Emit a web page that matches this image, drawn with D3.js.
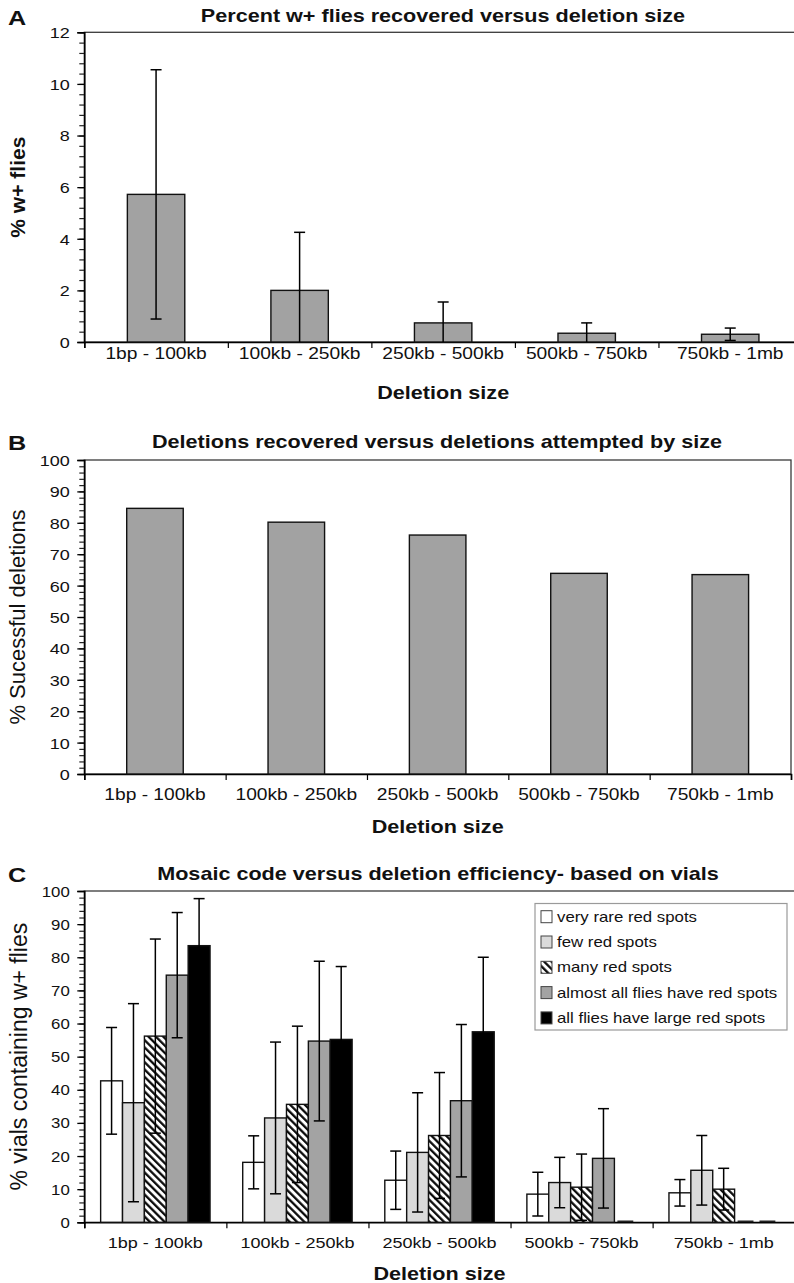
<!DOCTYPE html>
<html><head><meta charset="utf-8">
<script src="https://cdn.jsdelivr.net/npm/d3@7"></script>
<style>body{margin:0;background:#fff} svg{display:block} text{font-family:"Liberation Sans",Arial,Helvetica,sans-serif;fill:#111}</style>
</head><body>
<svg id="fig" width="794" height="1283"></svg>
<script>
// ---------- DATA ----------
const categories = ["1bp - 100kb", "100kb - 250kb", "250kb - 500kb", "500kb - 750kb", "750kb - 1mb"];

// Panel A: percent w+ flies recovered
const pctWFlies    = [5.72, 2.00, 0.74, 0.34, 0.30];
const pctWFliesErr = [4.83, 2.25, 0.81, 0.40, 0.24];
const yTicksA = [0, 2, 4, 6, 8, 10, 12];

// Panel B: percent successful deletions
const pctSuccessful = [84.6, 80.2, 76.1, 63.9, 63.5];
const yTicksB = [0, 10, 20, 30, 40, 50, 60, 70, 80, 90, 100];

// Panel C: mosaic code vs deletion efficiency
const mosaicCodes = ["very rare red spots", "few red spots", "many red spots",
                     "almost all flies have red spots", "all flies have large red spots"];
const veryRare     = [42.7, 18.1, 12.7, 8.5, 8.9];
const veryRareErr  = [16.1, 8.0, 8.8, 6.6, 4.0];
const fewSpots     = [36.1, 31.5, 21.1, 12.0, 15.7];
const fewSpotsErr  = [29.9, 22.9, 18.0, 7.6, 10.5];
const manySpots    = [56.2, 35.6, 26.2, 10.6, 10.0];
const manySpotsErr = [29.3, 23.6, 19.0, 10.0, 6.3];
const almostAll    = [74.6, 54.7, 36.7, 19.3, 0];
const almostAllErr = [18.9, 24.1, 23.0, 15.0, 0];
const allLarge     = [83.5, 55.2, 57.5, 0, 0];
const allLargeErr  = [14.2, 22.0, 22.5, 0, 0];
const yTicksC = [0, 10, 20, 30, 40, 50, 60, 70, 80, 90, 100];

// ---------- DRAWING ----------
const svg = d3.select("#fig");
const SX = 1.2; // horizontal stretch of the original figure's lettering
const defs = svg.append("defs");
const pat = defs.append("pattern").attr("id", "hatch").attr("patternUnits", "userSpaceOnUse")
  .attr("width", 5.2).attr("height", 5.2).attr("patternTransform", "rotate(-45)");
pat.append("rect").attr("width", 5.2).attr("height", 5.2).attr("fill", "#fff");
pat.append("line").attr("x1", 1.2).attr("x2", 1.2).attr("y1", 0).attr("y2", 5.2)
  .attr("stroke", "#000").attr("stroke-width", 2.2);

const seriesFill = ["#ffffff", "#dadada", "url(#hatch)", "#a3a3a3", "#000000"];
const BAR_GRAY = "#a2a2a2";

function txt(g, x, y, s, o = {}) {
  const size = o.size || 15, weight = o.weight || "normal", anchor = o.anchor || "middle";
  const sx = o.sx === undefined ? SX : o.sx;
  return g.append("text")
    .attr("transform", `translate(${x},${y}) scale(${sx},1)`)
    .attr("text-anchor", anchor).attr("font-size", size).attr("font-weight", weight).text(s);
}

function panel(cfg) {
  const g = svg.append("g");
  const {left, right, top, bottom, ymax, yTicks, minorStep} = cfg;
  const y = d3.scaleLinear().domain([0, ymax]).range([bottom, top]);
  const x = d3.scaleBand().domain(categories).range([left, right])
    .paddingInner(cfg.pInner).paddingOuter(cfg.pInner / 2);
  const idx = d3.scaleLinear().domain([0, categories.length]).range([left, right]);

  // plot area frame
  g.append("rect").attr("x", left).attr("y", top).attr("width", right - left).attr("height", bottom - top)
    .attr("fill", "none").attr("stroke", "#3a3a3a").attr("stroke-width", 1.3);

  // minor ticks
  const minor = g.append("g").attr("transform", `translate(${left},0)`)
    .call(d3.axisLeft(y).tickValues(d3.range(0, ymax + minorStep / 2, minorStep)).tickSize(5).tickFormat(""));
  minor.select(".domain").remove();
  minor.selectAll("line").attr("stroke", "#222").attr("stroke-width", 1.2);

  // major ticks + labels
  const yAx = g.append("g").attr("transform", `translate(${left},0)`)
    .call(d3.axisLeft(y).tickValues(yTicks).tickSize(7).tickPadding(0));
  yAx.select(".domain").attr("stroke", "#000").attr("stroke-width", 1.6);
  yAx.selectAll("line").attr("stroke", "#000").attr("stroke-width", 1.3);
  yAx.selectAll("text").attr("font-size", cfg.tickSize).attr("fill", "#111")
    .attr("font-family", '"Liberation Sans",Arial,sans-serif')
    .attr("x", -14.5 / SX).attr("dy", "0.36em").attr("transform", `scale(${SX},1)`);

  // x axis with category boundary ticks
  const xAx = g.append("g").attr("transform", `translate(0,${bottom})`)
    .call(d3.axisBottom(idx).tickValues(d3.range(0, categories.length + 1)).tickSize(6).tickFormat(""));
  xAx.select(".domain").attr("stroke", "#000").attr("stroke-width", 1.6);
  xAx.selectAll("line").attr("stroke", "#000").attr("stroke-width", 1.2);

  categories.forEach(c => txt(g, x(c) + x.bandwidth() / 2, cfg.xLabelY, c, {size: cfg.xLabelSize}));

  // titles
  txt(g, 8, cfg.letterY, cfg.letter, {size: 21, weight: "bold", anchor: "start"});
  txt(g, cfg.titleX, cfg.titleY, cfg.title, {size: 18, weight: "bold"});
  txt(g, (left + right) / 2 + cfg.xTitleDx, cfg.xTitleY, "Deletion size", {size: 18, weight: "bold"});
  g.append("text").attr("transform", `translate(${cfg.yTitleX},${(top + bottom) / 2}) rotate(-90)`)
    .attr("text-anchor", "middle").attr("font-size", cfg.yTitleSize).attr("font-weight", cfg.yTitleWeight)
    .text(cfg.yTitle);
  return {g, x, y};
}

function errBar(g, cx, y, v, e, capW) {
  if (!(e > 0)) return;
  const lo = Math.max(0, v - e), hi = v + e;
  const s = {stroke: "#000", "stroke-width": 1.5};
  const ln = (x1, y1, x2, y2) => { const l = g.append("line").attr("x1", x1).attr("y1", y1).attr("x2", x2).attr("y2", y2);
    Object.entries(s).forEach(([k, val]) => l.attr(k, val)); };
  ln(cx, y(hi), cx, y(lo));
  ln(cx - capW / 2, y(hi), cx + capW / 2, y(hi));
  if (v - e > 0) ln(cx - capW / 2, y(lo), cx + capW / 2, y(lo));
}

// ----- Panel A -----
(function () {
  const {g, x, y} = panel({
    left: 84.3, right: 802, top: 32.3, bottom: 342, ymax: 12, yTicks: yTicksA, minorStep: 0.4,
    pInner: 0.6, tickSize: 15, xLabelY: 359, xLabelSize: 16,
    letter: "A", letterY: 25, title: "Percent w+ flies recovered versus deletion size", titleX: 443, titleY: 22,
    xTitleY: 399, xTitleDx: 0, yTitle: "% w+ flies", yTitleX: 25, yTitleSize: 21, yTitleWeight: "bold"
  });
  categories.forEach((c, i) => {
    g.append("rect").attr("x", x(c)).attr("y", y(pctWFlies[i])).attr("width", x.bandwidth())
      .attr("height", y(0) - y(pctWFlies[i])).attr("fill", BAR_GRAY).attr("stroke", "#111").attr("stroke-width", 1.4);
  });
  categories.forEach((c, i) => errBar(g, x(c) + x.bandwidth() / 2, y, pctWFlies[i], pctWFliesErr[i], 11));
})();

// ----- Panel B -----
(function () {
  const {g, x, y} = panel({
    left: 84.3, right: 791, top: 460, bottom: 774, ymax: 100, yTicks: yTicksB, minorStep: 2,
    pInner: 0.6, tickSize: 15, xLabelY: 800, xLabelSize: 16,
    letter: "B", letterY: 450, title: "Deletions recovered versus deletions attempted by size", titleX: 437, titleY: 448,
    xTitleY: 833, xTitleDx: 0, yTitle: "% Sucessful deletions", yTitleX: 25, yTitleSize: 22, yTitleWeight: "normal"
  });
  categories.forEach((c, i) => {
    g.append("rect").attr("x", x(c)).attr("y", y(pctSuccessful[i])).attr("width", x.bandwidth())
      .attr("height", y(0) - y(pctSuccessful[i])).attr("fill", BAR_GRAY).attr("stroke", "#111").attr("stroke-width", 1.4);
  });
})();

// ----- Panel C -----
(function () {
  const {g, x, y} = panel({
    left: 84.3, right: 794.7, top: 891, bottom: 1222.3, ymax: 100, yTicks: yTicksC, minorStep: 2,
    pInner: 0.23, tickSize: 14, xLabelY: 1248, xLabelSize: 15,
    letter: "C", letterY: 882, title: "Mosaic code versus deletion efficiency- based on vials", titleX: 438, titleY: 880,
    xTitleY: 1280, xTitleDx: 0, yTitle: "% vials containing w+ flies", yTitleX: 27, yTitleSize: 23, yTitleWeight: "normal"
  });
  const vals = [veryRare, fewSpots, manySpots, almostAll, allLarge];
  const errs = [veryRareErr, fewSpotsErr, manySpotsErr, almostAllErr, allLargeErr];
  const xs = d3.scaleBand().domain(d3.range(mosaicCodes.length)).range([0, x.bandwidth()]).padding(0);
  categories.forEach((c, i) => {
    vals.forEach((arr, s) => {
      const v = arr[i], bx = x(c) + xs(s);
      if (v > 0) {
        g.append("rect").attr("x", bx).attr("y", y(v)).attr("width", xs.bandwidth())
          .attr("height", y(0) - y(v)).attr("fill", seriesFill[s]).attr("stroke", "#111").attr("stroke-width", 1.4);
      } else {
        g.append("line").attr("x1", bx + 3).attr("x2", bx + xs.bandwidth() - 3)
          .attr("y1", y(0) - 1).attr("y2", y(0) - 1).attr("stroke", "#222").attr("stroke-width", 1.6);
      }
    });
    vals.forEach((arr, s) => errBar(g, x(c) + xs(s) + xs.bandwidth() / 2, y, arr[i], errs[s][i], 11));
  });

  // legend
  const lg = g.append("g");
  lg.append("rect").attr("x", 535).attr("y", 903.5).attr("width", 252).attr("height", 126.5)
    .attr("fill", "#fff").attr("stroke", "#9a9a9a").attr("stroke-width", 1.2);
  mosaicCodes.forEach((name, s) => {
    const cy = 916.7 + s * 25.3;
    lg.append("rect").attr("x", 541).attr("y", cy - 6).attr("width", 11).attr("height", 12)
      .attr("fill", seriesFill[s]).attr("stroke", "#444").attr("stroke-width", 1);
    txt(lg, 557, cy + 5, name, {size: 14, anchor: "start"});
  });
})();
</script>
</body></html>
